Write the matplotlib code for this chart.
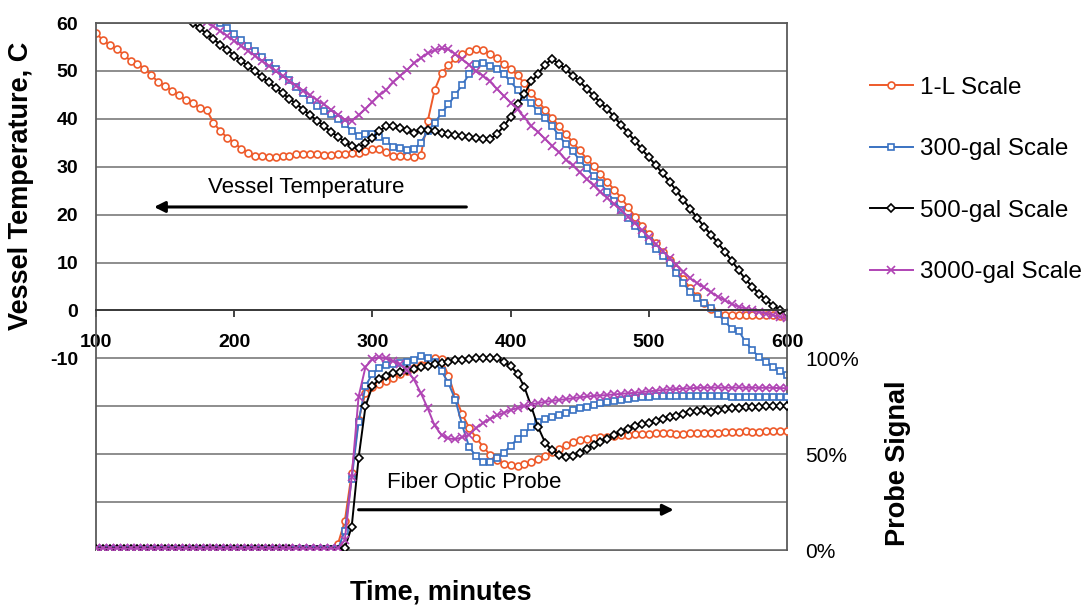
import numpy as np
import matplotlib
matplotlib.use("Agg")
import matplotlib.pyplot as plt

plt.rcParams['font.family'] = ['Liberation Sans', 'DejaVu Sans']

# ---------------- data ----------------
series_names = ["1-L Scale", "300-gal Scale", "500-gal Scale", "3000-gal Scale"]
series_colors = ["#EE5A2A", "#3A72C2", "#000000", "#B044B4"]

x_ticks = [100, 200, 300, 400, 500, 600]
temp_ticks = [60, 50, 40, 30, 20, 10, 0, -10]
probe_ticks = [0, 50, 100]
probe_tick_labels = ["0%", "50%", "100%"]

# vessel temperature (C), 5-minute readings
temp_1L_start = 100
temp_1L = [57.9, 56.4, 55.4, 54.6, 53.4, 52.1, 51.4, 50.5, 49.1, 47.7,
           46.9, 45.9, 44.9, 44.0, 43.2, 42.2, 41.9, 39.2, 37.4, 36.1,
           35.0, 33.8, 32.9, 32.3, 32.2, 32.1, 32.1, 32.2, 32.3, 32.6,
           32.7, 32.6, 32.6, 32.4, 32.4, 32.6, 32.7, 32.8, 32.9, 33.2,
           33.6, 33.8, 33.0, 32.3, 32.2, 32.2, 32.1, 32.4, 39.5, 46.0,
           49.5, 51.2, 52.6, 53.5, 54.2, 54.6, 54.4, 53.6, 52.6, 51.5,
           50.4, 49.1, 47.4, 45.4, 43.6, 41.9, 40.2, 38.5, 36.8, 35.1,
           33.4, 31.7, 30.1, 28.5, 26.8, 25.2, 23.5, 21.6, 19.6, 17.7,
           15.9, 14.1, 12.3, 10.5, 8.6, 6.6, 4.6, 3.0, 1.5, 0.2,
           -0.6, -0.9, -1.0, -1.0, -1.0, -1.0, -1.0, -1.0, -1.0, -1.1, -1.1]

temp_300_start = 190
temp_300 = [60.0, 58.9, 57.7, 56.5, 55.3, 54.1, 52.9, 51.7, 50.5, 49.3,
            48.0, 46.6, 45.3, 44.0, 42.7, 41.7, 41.0, 40.0, 38.9, 37.5,
            36.5, 36.8, 36.9, 36.3, 35.3, 34.2, 33.9, 33.5, 33.6, 35.0,
            37.4, 39.1, 41.2, 43.0, 45.0, 47.1, 49.3, 51.4, 51.6, 51.1,
            50.3, 49.3, 47.8, 46.0, 44.5, 43.2, 41.6, 40.1, 38.5, 36.5,
            34.7, 33.2, 31.4, 29.7, 28.0, 26.6, 24.7, 22.8, 21.0, 19.4,
            17.7, 16.0, 14.5, 12.9, 11.4, 9.9, 7.9, 5.8, 3.8, 2.5,
            1.5, 0.5, -0.7, -2.3, -3.8, -4.2, -6.6, -8.3, -9.8, -10.8,
            -11.7, -12.6, -13.4]

temp_500_start = 170
temp_500 = [60.0, 58.9, 57.8, 56.6, 55.5, 54.4, 53.2, 52.1, 51.0, 49.9,
            48.7, 47.6, 46.5, 45.3, 44.2, 43.1, 41.9, 40.8, 39.6, 38.5,
            37.3, 36.3, 35.2, 34.3, 33.9, 34.9, 36.0, 37.5, 38.4, 38.4,
            38.1, 37.7, 37.1, 37.6, 37.7, 37.4, 37.0, 36.9, 36.7, 36.5,
            36.2, 36.0, 35.7, 35.8, 36.8, 38.4, 40.4, 43.0, 45.2, 47.8,
            49.4, 51.3, 52.5, 51.5, 50.3, 49.0, 47.8, 46.3, 44.8, 43.4,
            42.0, 40.4, 38.7, 37.1, 35.4, 33.6, 32.0, 30.3, 28.6, 26.9,
            25.0, 23.1, 21.2, 19.3, 17.5, 15.8, 14.1, 12.3, 10.4, 8.4,
            6.5, 4.9, 3.4, 2.1, 1.0, 0.1, -0.5]

temp_3000_start = 180
temp_3000 = [60.3, 59.3, 58.3, 57.3, 56.3, 55.3, 54.2, 53.2, 52.1, 51.1,
             50.0, 49.0, 47.9, 46.9, 45.9, 44.9, 43.9, 43.0, 41.9, 40.9,
             39.8, 39.6, 40.8, 42.1, 43.5, 44.9, 46.1, 47.6, 49.0, 50.2,
             51.6, 52.7, 53.7, 54.3, 54.7, 54.5, 53.5, 52.4, 51.3, 49.9,
             49.0, 47.8, 46.3, 44.8, 43.4, 42.0, 40.3, 38.5, 37.2, 35.8,
             34.4, 33.0, 31.5, 30.3, 28.8, 27.4, 26.1, 24.8, 23.5, 22.2,
             20.9, 19.6, 18.2, 16.7, 15.3, 13.8, 12.4, 10.9, 9.5, 8.1,
             6.7, 5.7, 4.8, 3.8, 2.9, 2.1, 1.3, 0.8, 0.4, 0.0,
             -0.3, -0.7, -1.0, -1.3, -1.6]

# fiber optic probe signal (%), 5-minute readings from t = 100
probe_start = 100
probe_1L = [0.6, 0.6, 0.6, 0.6, 0.6, 0.6, 0.6, 0.6, 0.6, 0.6,
            0.6, 0.6, 0.6, 0.6, 0.6, 0.6, 0.6, 0.6, 0.6, 0.6,
            0.6, 0.6, 0.6, 0.6, 0.6, 0.6, 0.6, 0.6, 0.6, 0.6,
            0.6, 0.6, 0.6, 0.6, 0.6, 3.0, 15.0, 40.0, 68.0, 82.0,
            85.0, 86.8, 88.4, 90.0, 91.6, 93.3, 95.0, 96.7, 98.4, 100.0,
            99.5, 91.0, 80.0, 70.8, 63.8, 58.6, 54.0, 49.7, 47.0, 45.0,
            44.2, 44.0, 44.8, 45.8, 47.4, 49.3, 51.0, 52.9, 54.6, 56.2,
            57.3, 57.8, 58.3, 58.8, 59.2, 59.5, 60.0, 60.2, 60.4, 60.5,
            60.6, 60.8, 61.0, 60.8, 60.6, 60.5, 60.8, 61.0, 60.8, 60.9,
            61.2, 61.4, 61.5, 61.6, 62.0, 61.8, 61.7, 61.9, 62.0, 62.0, 62.0]

probe_300 = [0.3, 0.3, 0.3, 0.3, 0.3, 0.3, 0.3, 0.3, 0.3, 0.3,
             0.3, 0.3, 0.3, 0.3, 0.3, 0.3, 0.3, 0.3, 0.3, 0.3,
             0.3, 0.3, 0.3, 0.3, 0.3, 0.3, 0.3, 0.3, 0.3, 0.3,
             0.3, 0.3, 0.3, 0.3, 0.3, 0.3, 10.0, 37.0, 67.0, 85.5,
             92.0, 95.0, 96.3, 97.2, 97.6, 98.0, 99.2, 101.0, 100.3, 98.0,
             93.5, 87.0, 78.5, 65.0, 53.8, 48.9, 45.7, 45.7, 47.8, 50.7,
             54.4, 58.0, 61.0, 64.2, 66.8, 68.3, 69.6, 70.6, 71.6, 72.9,
             74.1, 74.8, 75.6, 76.5, 77.2, 77.9, 78.5, 79.0, 79.4, 79.7,
             80.0, 80.1, 80.2, 80.3, 80.3, 80.3, 80.3, 80.2, 80.2, 80.1,
             80.1, 80.1, 80.0, 80.0, 80.0, 80.0, 80.0, 80.0, 80.0, 80.0, 80.0]

probe_500 = [0.3, 0.3, 0.3, 0.3, 0.3, 0.3, 0.3, 0.3, 0.3, 0.3,
             0.3, 0.3, 0.3, 0.3, 0.3, 0.3, 0.3, 0.3, 0.3, 0.3,
             0.3, 0.3, 0.3, 0.3, 0.3, 0.3, 0.3, 0.3, 0.3, 0.0,
             0.0, 0.0, 0.0, 0.0, 0.0, 0.0, 1.0, 12.0, 48.0, 75.0,
             85.5, 89.3, 91.0, 92.2, 93.0, 94.0, 94.6, 95.4, 96.2, 97.0,
             97.8, 98.3, 98.9, 99.2, 99.5, 100.0, 100.3, 100.3, 100.2, 98.2,
             96.0, 92.0, 85.0, 74.8, 64.0, 56.0, 52.0, 49.8, 48.6, 48.8,
             50.6, 52.8, 54.8, 56.5, 58.0, 60.0, 61.8, 63.4, 64.6, 65.6,
             66.4, 67.4, 68.3, 69.2, 70.0, 71.0, 71.8, 72.5, 73.0, 72.2,
             72.8, 73.5, 74.0, 74.2, 74.4, 74.6, 74.8, 75.0, 75.0, 75.0, 75.0]

probe_3000 = [0.8, 0.8, 0.8, 0.8, 0.8, 0.8, 0.8, 0.8, 0.8, 0.8,
              0.8, 0.8, 0.8, 0.8, 0.8, 0.8, 0.8, 0.8, 0.8, 0.8,
              0.8, 0.8, 0.8, 0.8, 0.8, 0.8, 0.8, 0.8, 0.8, 0.8,
              0.8, 0.8, 0.8, 0.8, 0.8, 0.8, 5.0, 38.0, 80.0, 95.5,
              99.5, 100.8, 100.0, 98.5, 96.8, 94.0, 89.0, 82.0, 74.0, 65.0,
              60.0, 58.2, 57.8, 58.8, 60.2, 63.6, 66.3, 68.4, 70.2, 71.6,
              73.0, 74.1, 75.1, 76.0, 76.7, 77.3, 77.8, 78.3, 78.7, 79.2,
              79.7, 80.1, 80.4, 80.6, 80.9, 81.2, 81.5, 81.8, 82.0, 82.4,
              82.8, 83.1, 83.5, 83.8, 84.0, 84.2, 84.4, 84.6, 84.7, 84.7,
              84.8, 84.7, 84.7, 84.8, 84.7, 84.7, 84.6, 84.7, 84.6, 84.5, 84.4]

STEP = 5

def times(start, values):
    return start + STEP * np.arange(len(values))

temps = [(temp_1L_start, temp_1L), (temp_300_start, temp_300),
         (temp_500_start, temp_500), (temp_3000_start, temp_3000)]
probes = [probe_1L, probe_300, probe_500, probe_3000]

markers = [dict(marker='o', ms=5.0, mfc='white', mew=1.2),
           dict(marker='s', ms=4.6, mfc='white', mew=1.2),
           dict(marker='D', ms=4.0, mfc='white', mew=1.2),
           dict(marker='x', ms=6.0, mew=1.2)]

# ---------------- figure ----------------
W, H = 1088, 607
fig = plt.figure(figsize=(W / 100, H / 100), dpi=100)
L, R, T, B = 96, 787, 23, 550
ax = fig.add_axes([L / W, 1 - B / H, (R - L) / W, (B - T) / H])
ax.set_xlim(100, 600)
ax.set_ylim(-50, 60)

grid_c = "#858585"
frame_c = "#5a5a5a"
ax.spines['bottom'].set_position(('data', 0))
ax.spines['bottom'].set_color('#3a3a3a')
ax.spines['bottom'].set_linewidth(1.4)
for s in ['left', 'right', 'top']:
    ax.spines[s].set_color(frame_c)
    ax.spines[s].set_linewidth(1.3)

ax.set_yticks(list(range(-50, 61, 10)))
ax.set_yticklabels([str(v) if v in temp_ticks else "" for v in range(-50, 61, 10)],
                   fontsize=14, fontweight='bold')
ax.yaxis.grid(True, color=grid_c, lw=1.3)
ax.set_axisbelow(True)
ax.tick_params(axis='y', length=0, pad=13)

ax.set_xticks(x_ticks)
ax.set_xticklabels([str(v) for v in x_ticks], fontsize=14, fontweight='bold')
ax.tick_params(axis='x', direction='out', length=5, width=1.3, color='#333333', pad=12)
ax.axhline(-50, color=frame_c, lw=1.3, clip_on=False, zorder=0.5)

# probe axis
ax2 = ax.twinx()
ax2.set_ylim(0, 275)
ax2.set_yticks(probe_ticks)
ax2.set_yticklabels(probe_tick_labels, fontsize=15)
ax2.tick_params(axis='y', length=0, pad=13)
for s in ax2.spines.values():
    s.set_visible(False)

handles = []
for (start, vals), pv, name, col, mk in zip(temps, probes, series_names, series_colors, markers):
    h, = ax.plot(times(start, vals), vals, color=col, lw=1.4, mec=col, label=name, **mk)
    ax2.plot(times(probe_start, pv), pv, color=col, lw=1.4, mec=col, **mk)
    handles.append(h)

# annotations
ax.text(252, 25.6, "Vessel Temperature", ha='center', va='center', fontsize=16)
ax.annotate("", xy=(140, 21.6), xytext=(370, 21.6),
            arrowprops=dict(arrowstyle='-|>', color='black', lw=2.2, mutation_scale=16))
ax.text(374, -36.0, "Fiber Optic Probe", ha='center', va='center', fontsize=16)
ax.annotate("", xy=(520, -41.6), xytext=(288, -41.6),
            arrowprops=dict(arrowstyle='-|>', color='black', lw=2.2, mutation_scale=16))

# axis labels
fig.text(21 / W, 1 - 186 / H, "Vessel Temperature, C", rotation=90, ha='center', va='center',
         fontsize=19.5, fontweight='bold')
fig.text(898 / W, 1 - 463 / H, "Probe Signal", rotation=90, ha='center', va='center',
         fontsize=19.5, fontweight='bold')
fig.text(441 / W, 1 - 593 / H, "Time, minutes", ha='center', va='center',
         fontsize=19.5, fontweight='bold')

fig.legend(handles=handles, labels=series_names, loc='center left',
           bbox_to_anchor=(870 / W, 1 - 180 / H), frameon=False, fontsize=17.5,
           handlelength=1.75, handletextpad=0.3, labelspacing=1.62,
           borderpad=0, borderaxespad=0, numpoints=1)

fig.savefig("out.png", dpi=100)
